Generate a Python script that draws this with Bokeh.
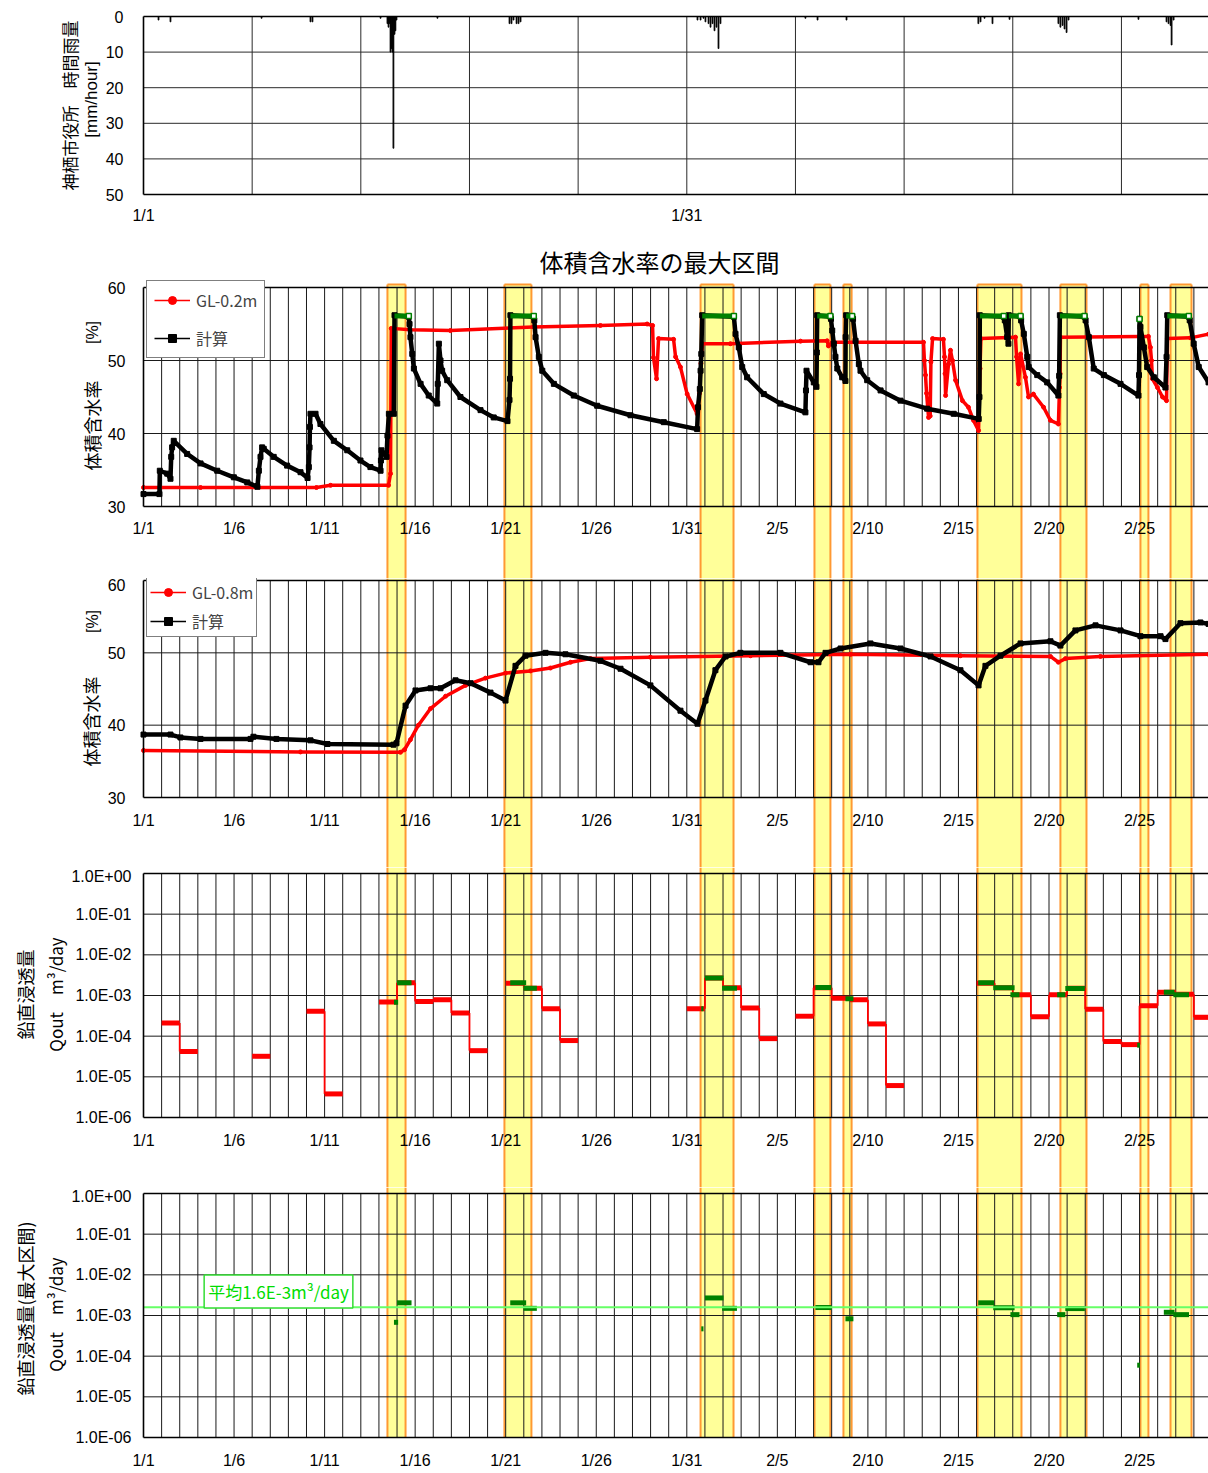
import numpy as np
from bokeh.plotting import figure
from bokeh.models import Range1d, FixedTicker, Label, Legend, LegendItem
from bokeh.layouts import column
from bokeh.embed import file_html
from bokeh.resources import INLINE

# ======================= DATA =======================
# x values are days since 1/1 00:00
date_tick_days = [0, 5, 10, 15, 20, 25, 30, 35, 40, 45, 50, 55]
date_tick_labels = ["1/1", "1/6", "1/11", "1/16", "1/21", "1/26", "1/31",
                    "2/5", "2/10", "2/15", "2/20", "2/25"]
rain_tick_days = [0, 30]
rain_tick_labels = ["1/1", "1/31"]
rain_ticks = [0, 10, 20, 30, 40, 50]
theta_ticks = [30, 40, 50, 60]
q_ticks = [1.0, 1e-1, 1e-2, 1e-3, 1e-4, 1e-5, 1e-6]
q_tick_labels = ["1.0E+00", "1.0E-01", "1.0E-02", "1.0E-03", "1.0E-04", "1.0E-05", "1.0E-06"]

# hourly rainfall (mm/hour) at Kamisu city office
rain_day = [0.83, 1.49, 6.52, 9.22, 9.33, 13.09, 13.47, 13.53, 13.58, 13.64, 13.69, 13.75,
            13.80, 13.86, 13.91, 13.97, 16.23, 20.21, 20.32, 20.43, 20.60, 20.71, 20.82,
            30.59, 30.76, 30.92, 31.03, 31.20, 31.31, 31.42, 31.53, 31.64, 31.75, 31.86,
            36.55, 37.22, 38.82, 46.10, 46.22, 46.44, 46.88, 47.82, 50.52, 50.63, 50.75,
            50.86, 50.97, 51.08, 54.94, 56.49, 56.60, 56.71, 56.77, 56.88]
rain_mm = [1.0, 1.5, 0.5, 1.5, 1.5, 0.5, 2.0, 3.0, 2.0, 10.0, 9.0, 10.0,
           37.0, 5.0, 4.0, 1.0, 0.5, 2.0, 2.0, 1.0, 2.0, 2.0, 1.5,
           1.0, 1.0, 0.5, 1.5, 2.0, 3.0, 2.0, 4.0, 3.0, 9.0, 2.0,
           0.5, 1.0, 1.0, 2.0, 1.5, 0.5, 2.0, 0.8, 2.0, 3.0, 2.5,
           3.5, 4.5, 1.0, 0.8, 1.5, 2.0, 2.5, 8.0, 1.0]

# maximum intervals (yellow bands)
band_start = [13.47, 19.93, 30.76, 37.05, 38.65, 46.05, 50.63, 55.05, 56.71]
band_end = [14.47, 21.42, 32.58, 37.93, 39.10, 48.48, 52.07, 55.49, 57.87]

# GL-0.2m measured volumetric water content [%]
gl02_day = [0.00, 3.15, 9.55, 10.33, 13.53, 13.64, 13.68, 14.74, 16.95, 21.53, 25.23, 27.81,
            28.11, 28.16, 28.33, 28.44, 29.27, 29.38, 29.65, 30.02, 30.57, 30.70, 30.78, 30.87,
            32.41, 36.28, 37.75, 37.82, 38.04, 43.07, 43.12, 43.18, 43.24, 43.35, 43.44, 43.48,
            43.57, 44.17, 44.23, 44.26, 44.29, 44.45, 44.56, 44.67, 44.84, 45.22, 45.55, 45.83,
            46.11, 46.19, 46.24, 48.15, 48.21, 48.32, 48.43, 48.70, 48.87, 49.14, 49.70, 50.08,
            50.52, 50.58, 50.61, 50.63, 55.05, 55.49, 55.60, 55.66, 55.71, 55.99, 56.27, 56.49,
            56.54, 57.81, 58.81]
gl02_val = [32.6, 32.6, 32.6, 32.9, 32.9, 34.5, 54.4, 54.2, 54.1, 54.6, 54.8, 55.0,
            54.8, 50.4, 47.5, 53.0, 52.9, 50.5, 49.1, 45.4, 42.7, 45.5, 49.6, 52.3,
            52.3, 52.65, 52.7, 52.0, 52.5, 52.5, 50.0, 48.0, 45.5, 42.2, 42.4, 49.8,
            53.0, 52.9, 50.5, 48.2, 45.2, 49.5, 51.4, 50.0, 47.3, 44.5, 43.6, 41.8,
            40.4, 48.9, 53.0, 53.2, 50.5, 46.8, 50.9, 47.7, 45.0, 45.4, 43.6, 41.8,
            41.3, 46.3, 48.2, 53.2, 53.3, 53.3, 51.8, 50.0, 47.5, 46.3, 45.0, 44.5,
            53.0, 53.1, 53.6]

# GL-0.2m calculated
calc02_day = [0.00, 0.88, 0.90, 1.31, 1.49, 1.53, 1.58, 1.67, 2.41, 3.15, 4.07, 4.99, 5.73, 6.29,
              6.37, 6.46, 6.55, 6.64, 7.19, 7.93, 8.67, 9.06, 9.13, 9.17, 9.19, 9.22, 9.50, 9.77,
              10.51, 11.25, 11.98, 12.53, 13.09, 13.11, 13.14, 13.42, 13.47, 13.55, 13.82, 13.86,
              14.65, 14.69, 14.74, 14.84, 14.93, 15.30, 15.75, 16.22, 16.25, 16.31, 16.40, 16.49,
              16.77, 17.50, 18.61, 19.34, 20.10, 20.21, 20.24, 20.26, 21.55, 21.58, 21.65, 21.83,
              22.02, 22.66, 23.76, 25.05, 26.89, 28.73, 30.57, 30.62, 30.72, 30.76, 30.80, 30.85,
              32.60, 32.69, 32.87, 33.06, 33.33, 34.25, 35.17, 36.55, 36.58, 36.61, 37.01, 37.16,
              37.18, 37.20, 37.93, 37.96, 38.03, 38.12, 38.21, 38.31, 38.58, 38.76, 38.77, 38.80,
              39.13, 39.18, 39.32, 39.50, 39.59, 39.96, 40.70, 41.80, 43.27, 44.74, 46.12, 46.16,
              46.18, 47.50, 47.56, 47.69, 47.76, 47.78, 48.43, 48.46, 48.61, 48.80, 48.88, 49.35,
              49.90, 50.52, 50.56, 50.60, 51.96, 52.02, 52.20, 52.47, 53.03, 53.95, 54.94, 54.97,
              55.00, 55.05, 55.24, 55.42, 55.79, 56.43, 56.49, 56.53, 57.72, 57.77, 57.99, 58.27,
              58.81]
calc02_val = [31.7, 31.7, 34.9, 34.5, 33.8, 36.8, 38.1, 39.0, 37.2, 35.9, 34.9, 34.0, 33.3, 32.7,
              34.9, 36.8, 38.1, 37.9, 36.8, 35.6, 34.7, 33.9, 35.4, 38.1, 40.9, 42.7, 42.7, 41.3,
              39.0, 37.7, 36.3, 35.4, 34.9, 36.3, 37.7, 36.8, 39.7, 42.7, 42.7, 56.2,
              56.0, 55.0, 53.2, 50.9, 48.9, 46.8, 45.2, 44.1, 46.8, 52.3, 50.0, 48.6,
              47.3, 45.0, 43.2, 42.2, 41.7, 44.6, 47.5, 56.2, 56.0, 55.5, 53.2, 50.5,
              48.6, 46.8, 45.2, 43.8, 42.5, 41.55, 40.6, 43.6, 46.1, 48.6, 50.9, 56.2,
              56.0, 53.65, 51.8, 49.1, 47.7, 45.4, 44.1, 42.9, 45.9, 48.6, 47.0, 46.4,
              51.1, 56.2, 56.0, 55.7, 54.1, 52.3, 50.5, 48.9, 47.7, 47.2, 53.2, 56.2,
              56.0, 55.7, 52.7, 49.5, 48.6, 47.3, 45.9, 44.5, 43.4, 42.7, 42.0, 45.0,
              56.2, 56.0, 55.5, 53.2, 52.3, 56.2, 56.0, 55.5, 53.65, 50.5, 49.1, 48.0,
              47.0, 45.2, 47.9, 56.2, 56.0, 55.5, 53.2, 48.9, 48.0, 46.8, 45.2, 48.0,
              55.7, 54.6, 51.8, 49.1, 47.7, 46.3, 50.5, 56.2, 56.0, 55.5, 52.3, 49.1,
              47.0]

# calculated values inside the maximum intervals (green)
max02_start = [13.86, 20.26, 30.85, 37.20, 38.80, 46.18, 47.78, 50.60, 55.00, 56.53]
max02_end = [14.65, 21.55, 32.60, 37.93, 39.13, 47.50, 48.43, 51.96, 55.00, 57.72]
max02_val = [56.1, 56.1, 56.1, 56.1, 56.1, 56.1, 56.1, 56.1, 55.7, 56.1]

# GL-0.8m measured
gl08_day = [0.00, 8.67, 14.19, 14.41, 14.74, 15.18, 15.85, 16.68, 17.78, 18.88, 19.99, 21.37,
            22.47, 23.58, 24.68, 27.99, 33.52, 39.04, 45.11, 50.08, 50.52, 50.91, 52.84, 58.81]
gl08_val = [36.5, 36.3, 36.25, 36.6, 38.0, 40.0, 42.3, 44.0, 45.5, 46.5, 47.2, 47.5,
            47.9, 48.7, 49.2, 49.4, 49.6, 49.8, 49.6, 49.5, 48.7, 49.2, 49.5, 49.8]

# GL-0.8m calculated
calc08_day = [0.00, 1.49, 2.04, 3.15, 5.91, 6.07, 7.34, 9.22, 10.16, 13.80, 13.97, 14.47, 15.02,
              15.85, 16.40, 17.23, 18.06, 19.16, 19.99, 20.54, 21.09, 22.20, 23.30, 25.23, 26.34,
              27.99, 29.65, 30.59, 31.03, 31.58, 32.14, 32.96, 35.17, 36.83, 37.27, 37.66, 38.49,
              40.14, 41.80, 43.46, 45.11, 46.11, 46.49, 47.32, 48.43, 50.08, 50.63, 51.46, 52.57,
              53.95, 55.05, 56.16, 56.43, 57.26, 58.36, 58.81]
calc08_val = [38.7, 38.7, 38.3, 38.1, 38.1, 38.4, 38.1, 37.9, 37.4, 37.3, 37.5, 42.7, 44.8,
              45.1, 45.1, 46.2, 45.8, 44.5, 43.4, 48.2, 49.6, 50.0, 49.8, 48.9, 47.8,
              45.5, 42.0, 40.2, 43.4, 47.6, 49.5, 50.0, 50.0, 48.7, 48.7, 50.0, 50.6,
              51.3, 50.6, 49.5, 47.6, 45.5, 48.2, 49.6, 51.3, 51.6, 51.0, 53.1, 53.8,
              53.1, 52.3, 52.3, 51.9, 54.1, 54.2, 54.0]

# daily vertical percolation Qout [m3/day] (value holds from day to day+1)
qout_day = [1, 2, 6, 9, 10, 13, 14, 15, 16, 17, 18, 20, 21, 22, 23, 30, 31, 32, 33, 34,
            36, 37, 38, 39, 40, 41, 46, 47, 48, 49, 50, 51, 52, 53, 54, 55, 56, 57, 58]
qout_val = [2.1e-4, 4.2e-5, 3.2e-5, 4.1e-4, 3.8e-6, 6.9e-4, 2.05e-3, 7.1e-4, 7.9e-4, 3.7e-4,
            4.4e-5, 2.0e-3, 1.5e-3, 4.7e-4, 7.8e-5, 4.7e-4, 2.7e-3, 1.55e-3, 4.9e-4, 8.7e-5,
            3.1e-4, 1.55e-3, 8.6e-4, 7.9e-4, 2.0e-4, 6.1e-6, 2.0e-3, 1.55e-3, 1.04e-3, 3.0e-4,
            1.04e-3, 1.5e-3, 4.6e-4, 7.4e-5, 6.2e-5, 5.6e-4, 1.2e-3, 1.07e-3, 2.9e-4]

# Qout inside maximum intervals
qmax_start = [13.83, 14.00, 20.25, 20.98, 30.80, 31.00, 31.95, 37.10, 38.76, 46.09, 46.92,
              47.87, 50.45, 50.90, 54.87, 56.34, 56.87]
qmax_end = [14.06, 14.80, 21.13, 21.72, 30.92, 32.03, 32.77, 37.99, 39.20, 46.97, 48.10,
            48.37, 50.90, 51.98, 55.02, 56.93, 57.73]
qmax_val = [6.8e-4, 2.05e-3, 2.05e-3, 1.5e-3, 4.7e-4, 2.7e-3, 1.5e-3, 1.57e-3, 8.3e-4, 2.05e-3,
            1.55e-3, 1.05e-3, 1.05e-3, 1.48e-3, 6.0e-5, 1.2e-3, 1.05e-3]
qmax_mean = 1.6e-3
qmax_mean_label = "平均1.6E-3m³/day"

# ======================= LAYOUT / STYLE =======================
PX_DAY = 18.11          # pixels per day
X0_PX = 143             # page x of day 0
PAGE_W = 1208
X_START = -X0_PX / PX_DAY
X_END = (PAGE_W - X0_PX) / PX_DAY
NUM_FONT = "Liberation Sans"
JP_FONT = "Noto Sans CJK JP"
RED = "#ff0000"
GREEN = "#008000"
BAND_FILL = "#ffff99"
BAND_EDGE = "#ff9933"
GRID_DAYS = list(range(1, 59))


def make_range(v1, p1, v2, p2, f_top, f_bot, log=False):
    """value v1 at page-y p1, v2 at page-y p2; returns range for a frame f_top..f_bot"""
    if log:
        v1, v2 = np.log10(v1), np.log10(v2)
    k = (p2 - p1) / (v2 - v1)
    vb = v1 + (f_bot - p1) / k
    vt = v1 + (f_top - p1) / k
    if log:
        vb, vt = 10 ** vb, 10 ** vt
    return Range1d(vb, vt)


def make_fig(f_top, f_bot, yr, log=False):
    p = figure(frame_width=PAGE_W, frame_height=f_bot - f_top,
               min_border_left=0, min_border_right=0, min_border_top=0, min_border_bottom=0,
               x_range=Range1d(X_START, X_END), y_range=yr,
               y_axis_type="log" if log else "linear",
               toolbar_location=None, output_backend="svg", title=None)
    p.outline_line_color = None
    p.background_fill_color = "white"
    p.border_fill_color = "white"
    p.xgrid.visible = False
    p.ygrid.visible = False
    return p


def style_x(p, fixed, standoff, ticks, labels):
    ax = p.xaxis[0]
    ax.fixed_location = fixed
    ax.ticker = FixedTicker(ticks=ticks)
    ax.major_label_overrides = dict(zip(ticks, labels))
    ax.axis_line_color = None
    ax.major_tick_line_color = None
    ax.minor_tick_line_color = None
    ax.major_tick_out = 0
    ax.major_tick_in = 0
    ax.minor_tick_out = 0
    ax.major_label_standoff = standoff
    ax.major_label_text_font = NUM_FONT
    ax.major_label_text_font_size = "16px"
    ax.major_label_text_color = "black"


def style_y(p, ticks, bounds, standoff, labels=None):
    ay = p.yaxis[0]
    ay.fixed_location = 0
    ay.ticker = FixedTicker(ticks=ticks)
    ay.bounds = bounds
    ay.axis_line_color = "black"
    ay.axis_line_width = 1.6
    ay.major_tick_line_color = None
    ay.minor_tick_line_color = None
    ay.major_tick_out = 0
    ay.major_tick_in = 0
    ay.minor_tick_out = 0
    ay.major_label_standoff = standoff
    ay.major_label_text_font = NUM_FONT
    ay.major_label_text_font_size = "16px"
    ay.major_label_text_color = "black"
    if labels is not None:
        ay.major_label_overrides = dict(zip(ticks, labels))


def add_bands(p, yr, lo=None, top_edge=None):
    bottom = yr.start if lo is None else lo
    top = yr.end if top_edge is None else top_edge
    n = len(band_start)
    p.quad(left=band_start, right=band_end, top=[top] * n, bottom=[bottom] * n,
           fill_color=BAND_FILL, line_color=None)
    xs = band_start + band_end
    p.segment(x0=xs, x1=xs, y0=[bottom] * len(xs), y1=[top] * len(xs),
              line_color=BAND_EDGE, line_width=2)
    if top_edge is not None:
        p.segment(x0=band_start, x1=band_end, y0=[top_edge] * n, y1=[top_edge] * n,
                  line_color=BAND_EDGE, line_width=2)


def add_grid(p, y_lo, y_hi, hlines, days=GRID_DAYS, color="#1a1a1a"):
    n = len(days)
    p.segment(x0=days, x1=days, y0=[y_lo] * n, y1=[y_hi] * n,
              line_color=color, line_width=1)
    m = len(hlines)
    if m:
        p.segment(x0=[0] * m, x1=[X_END + 1] * m, y0=hlines, y1=hlines,
                  line_color=color, line_width=1)


def add_box(p, y_lo, y_hi):
    p.segment(x0=[0, 0], x1=[X_END + 1, X_END + 1], y0=[y_lo, y_hi], y1=[y_lo, y_hi],
              line_color="black", line_width=1.6)


def text_at(p, text, px, py, frame_bottom, size="18px", font=JP_FONT, angle=np.pi / 2,
            color="black", **kw):
    p.add_layout(Label(x=px, y=frame_bottom - py, x_units="screen", y_units="screen",
                       text=text, angle=angle, text_align="center",
                       text_baseline="middle", text_font=font, text_font_size=size,
                       text_color=color, **kw))


def add_legend(p, name, r_line, r_mark, k_line, k_mark, loc, spacing, padding):
    leg = Legend(items=[LegendItem(label=name, renderers=[r_line, r_mark]),
                        LegendItem(label="計算", renderers=[k_line, k_mark])],
                 location=loc, orientation="vertical",
                 border_line_color="black", border_line_width=1,
                 background_fill_color="white", background_fill_alpha=1.0,
                 label_text_font=JP_FONT, label_text_font_size="16px",
                 glyph_width=36, glyph_height=20, label_height=20, label_standoff=6,
                 spacing=spacing, padding=padding, margin=0)
    p.add_layout(leg)


# ---------- panel 1 : rainfall ----------
A_TOP, A_BOT = 0, 245
ya = make_range(0, 16, 50, 194, A_TOP, A_BOT)
pa = make_fig(A_TOP, A_BOT, ya)
add_grid(pa, 0, 50, [10, 20, 30, 40], days=list(range(6, 59, 6)), color="#2a2a2a")
pa.vbar(x=rain_day, width=0.05, top=rain_mm, bottom=0, fill_color="black",
        line_color="black", line_width=0.8)
add_box(pa, 0, 50)
style_x(pa, 50, 12, rain_tick_days, rain_tick_labels)
style_y(pa, rain_ticks, (0, 50), 20)
text_at(pa, "神栖市役所　時間雨量", 69, 105, A_BOT, size="17px")
text_at(pa, "[mm/hour]", 91, 99, A_BOT, size="17px", font=NUM_FONT)

# ---------- panel 2 : GL-0.2m ----------
B_TOP, B_BOT = 245, 578
yb = make_range(60, 287, 30, 506, B_TOP, B_BOT)
pb = make_fig(B_TOP, B_BOT, yb)
add_bands(pb, yb, top_edge=60 + (287 - 284) / 7.3)
add_grid(pb, 30, 60, [40, 50])
rl = pb.line(gl02_day, gl02_val, line_color=RED, line_width=1.5)
pb.line(gl02_day, gl02_val, line_color=RED, line_width=3.5, line_join="round")
rm = pb.scatter(gl02_day, gl02_val, marker="circle", size=4, color=RED)
kl = pb.line(calc02_day, calc02_val, line_color="black", line_width=1.5)
pb.line(calc02_day, calc02_val, line_color="black", line_width=4.5, line_join="round")
km = pb.scatter(calc02_day, calc02_val, marker="square", size=5, color="black")
pb.segment(x0=max02_start, x1=max02_end, y0=max02_val, y1=max02_val,
           line_color=GREEN, line_width=5)
pb.scatter(max02_end, max02_val, marker="square", size=5, fill_color="white",
           line_color=GREEN, line_width=1.5)
add_box(pb, 30, 60)
style_x(pb, 30, 13, date_tick_days, date_tick_labels)
style_y(pb, theta_ticks, (30, 60), 18)
add_legend(pb, "GL-0.2m", rl, rm, kl, km, (146, B_BOT - 358), 14, 7)
text_at(pb, "体積含水率", 91, 425, B_BOT)
text_at(pb, "[%]", 92, 332, B_BOT, size="16px", font=NUM_FONT)
text_at(pb, "体積含水率の最大区間", 659, 261, B_BOT, size="24px", angle=0)

# ---------- panel 3 : GL-0.8m ----------
C_TOP, C_BOT = 578, 867
yc = make_range(60, 580, 30, 797, C_TOP, C_BOT)
pc = make_fig(C_TOP, C_BOT, yc)
add_bands(pc, yc)
add_grid(pc, 30, 60, [40, 50])
rl3 = pc.line(gl08_day, gl08_val, line_color=RED, line_width=1.5)
pc.line(gl08_day, gl08_val, line_color=RED, line_width=3.5, line_join="round")
rm3 = pc.scatter(gl08_day, gl08_val, marker="circle", size=4, color=RED)
kl3 = pc.line(calc08_day, calc08_val, line_color="black", line_width=1.5)
pc.line(calc08_day, calc08_val, line_color="black", line_width=4.5, line_join="round")
km3 = pc.scatter(calc08_day, calc08_val, marker="square", size=5, color="black")
add_box(pc, 30, 60)
style_x(pc, 30, 14, date_tick_days, date_tick_labels)
style_y(pc, theta_ticks, (30, 60), 18)
add_legend(pc, "GL-0.8m", rl3, rm3, kl3, km3, (146, C_BOT - 637), 5, 3)
text_at(pc, "体積含水率", 90, 721, C_BOT)
text_at(pc, "[%]", 92, 621, C_BOT, size="16px", font=NUM_FONT)

# ---------- panel 4 : Qout ----------
D_TOP, D_BOT = 867, 1187
yd = make_range(1.0, 873, 1e-6, 1117, D_TOP, D_BOT, log=True)
pd_ = make_fig(D_TOP, D_BOT, yd, log=True)
add_bands(pd_, yd)
add_grid(pd_, 1e-6, 1.0, [1e-1, 1e-2, 1e-3, 1e-4, 1e-5])
step_x, step_a, step_b = [], [], []
for i in range(len(qout_day) - 1):
    if qout_day[i + 1] == qout_day[i] + 1:
        step_x.append(qout_day[i + 1])
        step_a.append(qout_val[i])
        step_b.append(qout_val[i + 1])
pd_.segment(x0=step_x, x1=step_x, y0=step_a, y1=step_b, line_color=RED, line_width=1.8)
pd_.segment(x0=qout_day, x1=[d + 1 for d in qout_day], y0=qout_val, y1=qout_val,
            line_color=RED, line_width=5)
pd_.segment(x0=qmax_start, x1=qmax_end, y0=qmax_val, y1=qmax_val,
            line_color=GREEN, line_width=5)
add_box(pd_, 1e-6, 1.0)
style_x(pd_, 1e-6, 14, date_tick_days, date_tick_labels)
style_y(pd_, q_ticks, (1e-6, 1.0), 12, q_tick_labels)
text_at(pd_, "鉛直浸透量", 24, 994, D_BOT)
text_at(pd_, "Qout　m³/day", 55, 994, D_BOT, size="17px")

# ---------- panel 5 : Qout (max interval) ----------
E_TOP, E_BOT = 1187, 1473
ye = make_range(1.0, 1193, 1e-6, 1437, E_TOP, E_BOT, log=True)
pe = make_fig(E_TOP, E_BOT, ye, log=True)
add_bands(pe, ye, lo=1e-6)
add_grid(pe, 1e-6, 1.0, [1e-1, 1e-2, 1e-3, 1e-4, 1e-5])
pe.segment(x0=qmax_start, x1=qmax_end, y0=qmax_val, y1=qmax_val,
           line_color=GREEN, line_width=5)
pe.segment(x0=[0], x1=[X_END + 1], y0=[qmax_mean], y1=[qmax_mean],
           line_color="#66ff66", line_width=2)
add_box(pe, 1e-6, 1.0)
style_x(pe, 1e-6, 14, date_tick_days, date_tick_labels)
style_y(pe, q_ticks, (1e-6, 1.0), 12, q_tick_labels)
text_at(pe, "鉛直浸透量(最大区間)", 24, 1308, E_BOT)
text_at(pe, "Qout　m³/day", 55, 1314, E_BOT, size="17px")
text_at(pe, qmax_mean_label, 278, 1291, E_BOT, size="17px", angle=0, color="#00dd00",
        background_fill_color="white", border_line_color="#33dd33",
        border_line_width=1.5, padding=4)

layout = column(pa, pb, pc, pd_, pe, spacing=0)
open("out.html", "w").write(file_html(layout, INLINE))
